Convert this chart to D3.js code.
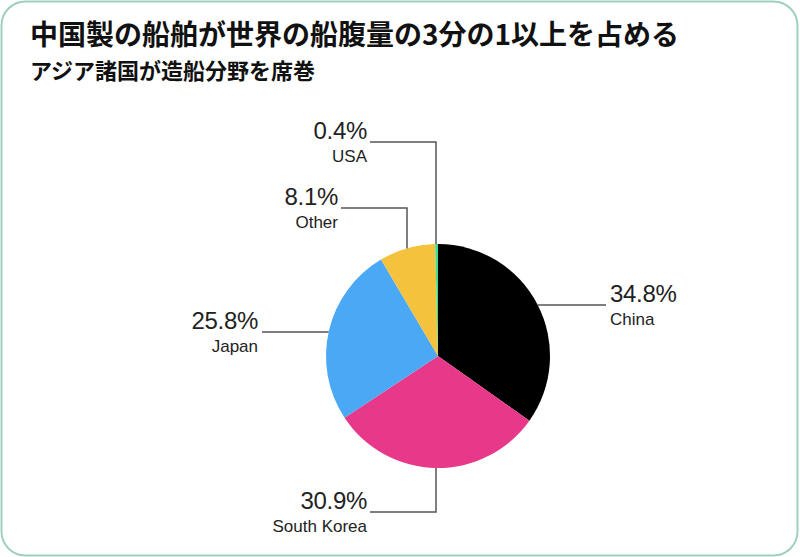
<!DOCTYPE html>
<html>
<head>
<meta charset="utf-8">
<script src="https://cdn.jsdelivr.net/npm/d3@7"></script>
<style>
  body { margin: 0; background: #fff; }
  svg { display: block; }
</style>
</head>
<body>
<script>
// data, clockwise from 12 o'clock
var countries = ["China", "South Korea", "Japan", "Other", "USA"];
var shares = [34.8, 30.9, 25.8, 8.1, 0.4];
var colors = ["#000000", "#e8388a", "#4aa8f5", "#f5c23e", "#3ddc97"];

var w = 800, h = 557;
var cx = 438, cy = 356, r = 112;

var svg = d3.select("body").append("svg")
	.attr("width", w)
	.attr("height", h);

// card border
svg.append("rect")
	.attr("x", 1.5).attr("y", 1.5)
	.attr("width", w - 4).attr("height", h - 3)
	.attr("rx", 24).attr("ry", 24)
	.attr("fill", "#fff")
	.attr("stroke", "#9fd0bf")
	.attr("stroke-width", 2);

var jp = "'Noto Sans CJK JP', 'Noto Sans', sans-serif";
svg.append("text")
	.attr("x", 30).attr("y", 45)
	.attr("font-family", jp).attr("font-weight", "bold")
	.attr("font-size", "28px").attr("fill", "#111")
	.text("中国製の船舶が世界の船腹量の3分の1以上を占める");
svg.append("text")
	.attr("x", 30).attr("y", 79)
	.attr("font-family", jp).attr("font-weight", "bold")
	.attr("font-size", "22px").attr("fill", "#111")
	.text("アジア諸国が造船分野を席巻");

var pie = d3.pie().sort(null).value(function(d) { return d; });
var arc = d3.arc().innerRadius(0).outerRadius(r);
var arcs = pie(shares);

var g = svg.append("g").attr("transform", "translate(" + cx + "," + cy + ")");
g.selectAll("path")
	.data(arcs)
	.enter()
	.append("path")
	.attr("d", arc)
	.attr("fill", function(d, i) { return colors[i]; });

// leader line shapes, offsets relative to the pie centre
// h: straight line out of the rim at height dy, ending at dx
// v: goes up/down from the rim at dx, turns at dy, runs left for len
var labelCfg = [
	{ kind: "h", dy: -51, dx: 168 },            // China
	{ kind: "v", dx: -2, dy: 156, len: 66 },    // South Korea
	{ kind: "h", dy: -24, dx: -176 },           // Japan
	{ kind: "v", dx: -31, dy: -148, len: 66 },  // Other
	{ kind: "v", dx: -2, dy: -214, len: 66 }    // USA
];

var lines = svg.append("g")
	.attr("fill", "none")
	.attr("stroke", "#555")
	.attr("stroke-width", 1.5);
var labels = svg.append("g")
	.attr("font-family", "'Liberation Sans', Arial, sans-serif")
	.attr("fill", "#222");

arcs.forEach(function(d, i) {
	var c = labelCfg[i];
	var pts, tx, ty, anchor;
	if (c.kind == "h") {
		var dir = c.dx > 0 ? 1 : -1;
		var ey = cy + c.dy;
		var ex = cx + dir * Math.sqrt(r * r - c.dy * c.dy);
		pts = [[ex, ey], [cx + c.dx, ey]];
		tx = cx + c.dx + dir * 4;
		ty = ey;
		anchor = dir > 0 ? "start" : "end";
	} else {
		var up = c.dy < 0 ? -1 : 1;
		var vx = cx + c.dx;
		var rimY = cy + up * Math.sqrt(r * r - c.dx * c.dx);
		var ey2 = cy + c.dy;
		pts = [[vx, rimY], [vx, ey2], [vx - c.len, ey2]];
		tx = vx - c.len - 3;
		ty = ey2;
		anchor = "end";
	}
	lines.append("path").attr("d", d3.line()(pts));
	labels.append("text")
		.attr("x", tx).attr("y", ty - 3)
		.attr("text-anchor", anchor)
		.attr("font-size", "24px")
		.attr("letter-spacing", "-0.3px")
		.text(shares[i].toFixed(1) + "%");
	labels.append("text")
		.attr("x", tx).attr("y", ty + 20)
		.attr("text-anchor", anchor)
		.attr("font-size", "17px")
		.text(countries[i]);
});
</script>
</body>
</html>
